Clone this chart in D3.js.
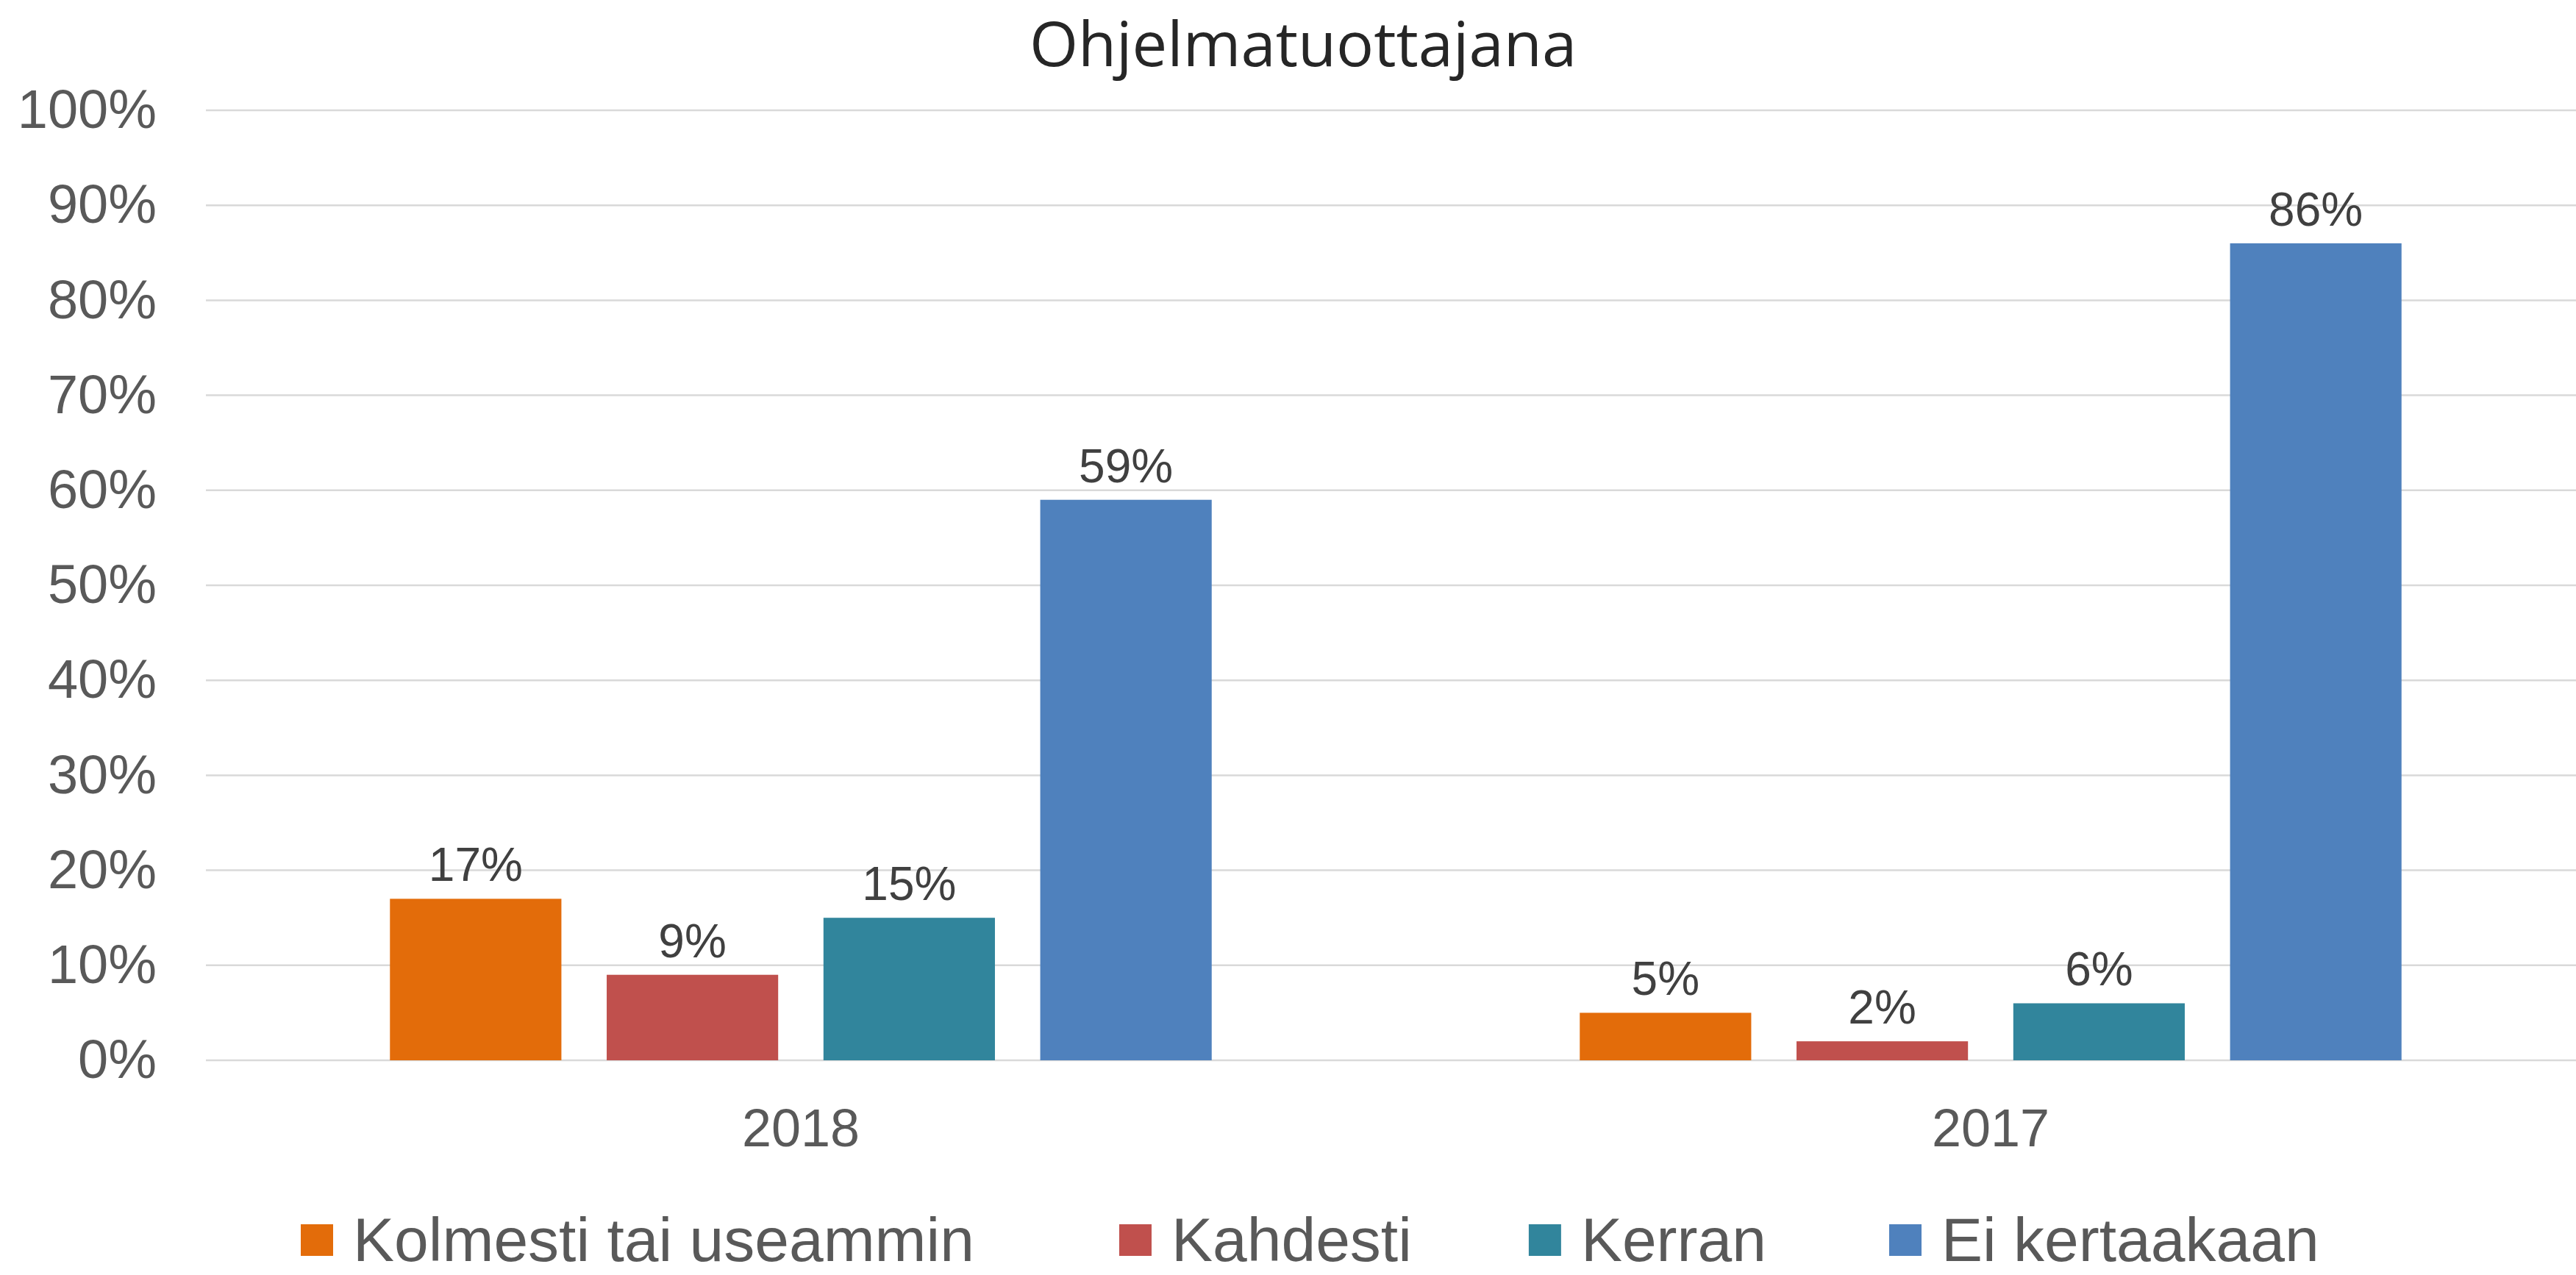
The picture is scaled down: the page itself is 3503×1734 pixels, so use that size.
<!DOCTYPE html>
<html>
<head>
<meta charset="utf-8">
<script src="https://cdn.jsdelivr.net/npm/d3@7"></script>
<style>
  html, body { margin: 0; padding: 0; background: #fff; }
  svg { display: block; }
</style>
</head>
<body>
<script>
// Data
const years = ['2018', '2017'];
const series = ['Kolmesti tai useammin', 'Kahdesti', 'Kerran', 'Ei kertaakaan'];
const values2018 = [17, 9, 15, 59];
const values2017 = [5, 2, 6, 86];
const yTicks = [0, 10, 20, 30, 40, 50, 60, 70, 80, 90, 100];
const colors = ['#E36C0A', '#C0504D', '#31859C', '#4F81BD'];

// Constants
const width = 3503;
const height = 1734;
const margin = { top: 150, right: -13, bottom: 292, left: 280 };

const svg = d3.select('body')
    .append('svg')
    .attr('width', width)
    .attr('height', height);

// Title
svg.append('text')
    .attr('x', 1772)
    .attr('y', 90)
    .attr('text-anchor', 'middle')
    .attr('font-family', '"Open Sans", sans-serif')
    .attr('font-size', 85)
    .attr('fill', '#262626')
    .text('Ohjelmatuottajana');

// Scales
const x0 = d3.scaleBand()
    .domain(years)
    .range([margin.left, width - margin.right]);

const x1 = d3.scaleBand()
    .domain(series)
    .range([0, x0.bandwidth()])
    .paddingInner(0.209)
    .paddingOuter(0.849);

const y = d3.scaleLinear()
    .domain([0, 100])
    .range([height - margin.bottom, margin.top]);

// Gridlines
svg.append('g')
    .selectAll('line')
    .data(yTicks)
    .join('line')
    .attr('x1', margin.left)
    .attr('x2', width - margin.right)
    .attr('y1', d => y(d))
    .attr('y2', d => y(d))
    .attr('stroke', '#d9d9d9')
    .attr('stroke-width', 2.5);

// Y axis labels
const yAxis = svg.append('g')
    .attr('transform', `translate(${margin.left - 67},0)`)
    .call(d3.axisLeft(y).tickValues(yTicks).tickFormat(d => d + '%').tickSize(0).tickPadding(0));
yAxis.select('.domain').remove();
yAxis.selectAll('text')
    .attr('font-family', '"Liberation Sans", Arial, sans-serif')
    .attr('font-size', 74)
    .attr('fill', '#595959');

// X axis labels
const xAxis = svg.append('g')
    .attr('transform', `translate(0,${y(0)})`)
    .call(d3.axisBottom(x0).tickSize(0).tickPadding(0));
xAxis.select('.domain').remove();
xAxis.selectAll('text')
    .attr('dy', null)
    .attr('y', 117)
    .attr('font-family', '"Liberation Sans", Arial, sans-serif')
    .attr('font-size', 72)
    .attr('fill', '#595959');

// Bars
const rows = years.map((yr, i) => ({ year: yr, values: i === 0 ? values2018 : values2017 }));

const group = svg.append('g')
    .selectAll('g')
    .data(rows)
    .join('g')
    .attr('transform', d => `translate(${x0(d.year)},0)`);

const cells = d => d.values.map((v, j) => ({ key: series[j], value: v, color: colors[j] }));

group.selectAll('rect')
    .data(cells)
    .join('rect')
    .attr('x', d => x1(d.key))
    .attr('width', x1.bandwidth())
    .attr('y', d => y(d.value))
    .attr('height', d => y(0) - y(d.value))
    .attr('fill', d => d.color);

// Data labels
group.selectAll('text')
    .data(cells)
    .join('text')
    .attr('x', d => x1(d.key) + x1.bandwidth() / 2)
    .attr('y', d => y(d.value) - 24)
    .attr('text-anchor', 'middle')
    .attr('font-family', '"Liberation Sans", Arial, sans-serif')
    .attr('font-size', 64)
    .attr('fill', '#404040')
    .text(d => d.value + '%');

// Legend (gaps between entries differ a bit, as in the original)
const legendGaps = [197, 159, 167];
const legend = svg.append('g');
let lx = 409;
series.forEach((name, i) => {
    legend.append('rect')
        .attr('x', lx)
        .attr('y', 1665)
        .attr('width', 44)
        .attr('height', 43)
        .attr('fill', colors[i]);
    const t = legend.append('text')
        .attr('x', lx + 71)
        .attr('y', 1715)
        .attr('font-family', '"Liberation Sans", Arial, sans-serif')
        .attr('font-size', 84)
        .attr('fill', '#595959')
        .text(name);
    lx += 71 + t.node().getComputedTextLength() + (legendGaps[i] || 0);
});
</script>
</body>
</html>
